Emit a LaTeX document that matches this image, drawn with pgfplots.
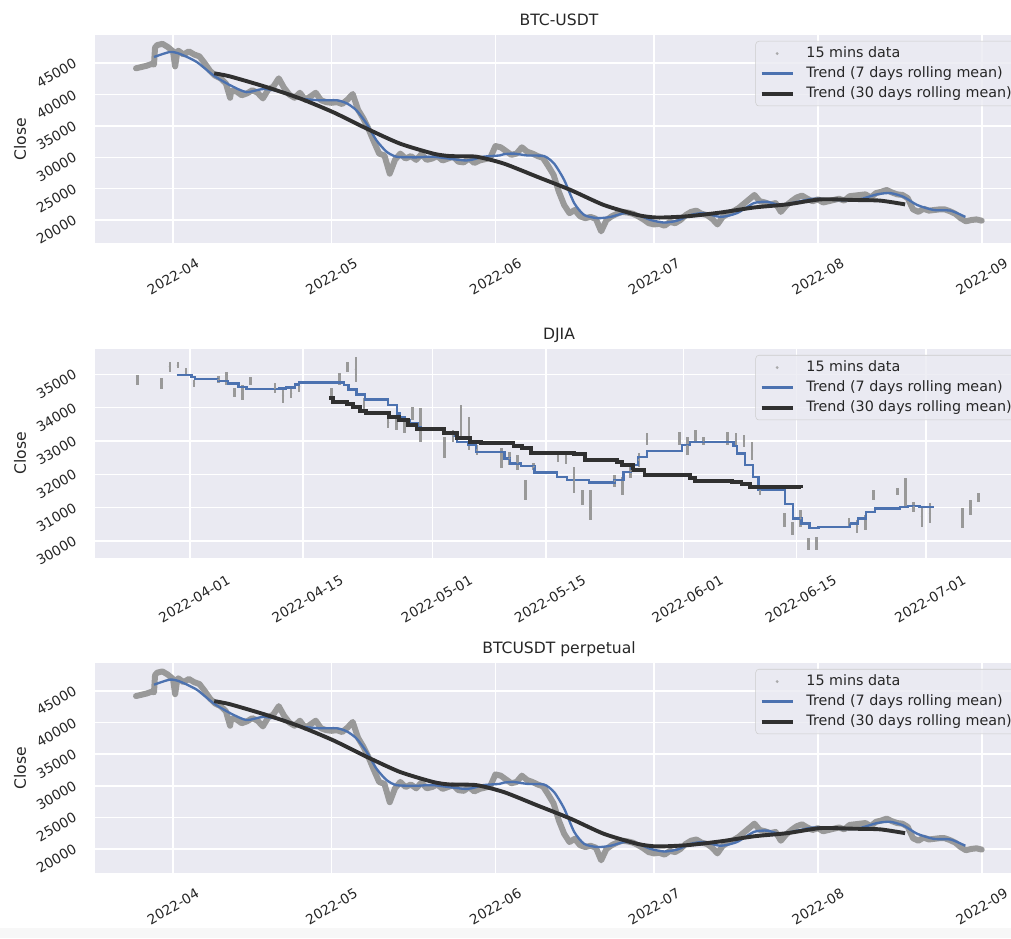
\documentclass[border=0pt]{standalone}
\usepackage{fontspec}
\setmainfont{DejaVu Sans}
\usepackage{pgfplots}
\usepackage{pgfplotstable}
\pgfplotsset{compat=1.18}

\definecolor{bg}{HTML}{EAEAF2}
\definecolor{sbblue}{HTML}{4C72B0}
\definecolor{txt}{HTML}{262626}
\definecolor{pts}{HTML}{999999}
\definecolor{trend}{HTML}{303030}

% day number counted from 2022-04-01
\pgfplotstableread{
d v
-7 44200
-6 44400
-5 44600
-4 44900
-3.6 44800
-3.4 47500
-3 47900
-2 48100
-1 47600
0 46900
0.4 44500
0.8 46800
1 47000
2 46400
3 46900
4 46400
5 46100
6 45000
7 43800
8 43000
9 42600
10 41800
10.8 39500
11 40600
12 40500
13 39900
14 40200
15 40700
16 40300
17 39400
18 40800
19 41300
20 42600
21 41100
22 40000
23 39500
24 40300
25 39200
26 39700
27 40300
28 39100
29 38800
30 38700
31 38800
32 38500
33 39200
34 40100
35 37600
36 36200
37 34500
38 32500
39 30600
40 30300
41 27400
42 29600
43 30600
44 29800
45 30200
46 29600
47 30500
48 29600
49 29800
50 30200
51 29500
52 29800
53 30100
54 29300
55 29200
56 29800
57 29100
58 29500
59 29700
60 29900
61 31800
62 31600
63 31000
64 30400
65 30600
66 31600
67 30900
68 30600
69 30200
70 29900
71 28600
72 27200
73 24500
74 22400
75 21100
76 21600
77 20600
78 20300
79 20500
80 20200
81 18200
82 20000
83 20600
84 21000
85 21300
86 21200
87 21000
88 20600
89 20100
90 19500
91 19300
92 19400
93 19100
94 19700
95 19500
96 20000
97 20800
98 21300
99 21500
100 21000
101 20800
102 20200
103 19300
104 20500
105 21000
106 21400
107 21900
108 22600
109 23300
110 24000
111 23000
112 22800
113 22500
114 22700
115 21300
116 22300
117 23000
118 23600
119 23900
120 23400
121 23000
122 23300
123 22800
124 23000
125 23200
126 23400
127 23100
128 23800
129 23900
130 24000
131 24100
132 23600
133 24300
134 24500
135 24800
136 24400
137 24100
138 24000
139 23500
140 21700
141 21300
142 21800
143 21500
144 21600
145 21700
146 21700
147 21400
148 21000
149 20300
150 19800
151 20000
152 20100
153 19900
}\btcpts

\pgfplotstableread{
d v
-3.6 46000
-0.6 46800
1.3 46500
4.5 45200
7.6 43100
10.8 41500
13.9 40400
17.1 40900
20.9 40400
24 39400
27.8 39100
31 39100
32.9 38600
34.7 37500
36.6 35400
38.5 32700
40.4 30900
42.3 30100
46.1 30000
49.2 30100
55.5 29500
58.7 30100
61.8 30300
62.6 30500
64.5 30600
67 30300
70.2 30200
72.1 29000
74 26400
75.9 22700
77.8 20800
80.3 20300
82.8 20500
85.4 21100
87.9 20800
90.4 20000
92.9 19600
95.4 19900
97.9 20800
100.4 21100
103.6 20500
106.7 21100
109.9 22700
112.4 22900
114.9 22400
118.1 22900
121.2 23400
125.6 23200
129.4 23200
133.2 24100
135.7 24300
138.2 23700
140.8 22400
143.9 21600
147.1 21500
149.9 20500
}\btcweek

\pgfplotstableread{
d v
7.8 43400
10.8 42900
17.7 41200
24 39400
30.3 37200
36.6 34600
42.9 32200
49.2 30600
52.4 30200
57.4 30100
62.6 29000
68.9 26900
75.2 24800
81.5 22400
87.9 20800
91.6 20400
97.3 20600
103.6 21200
109.9 22000
116.2 22500
122.5 23300
128.8 23200
133.8 23100
138.5 22500
}\btcmonth

% DJIA: one column per trading day, mid value and half range
\pgfplotstableread{
d v e
-6.5 34830 150
-3.5 34715 165
-2.5 35230 150
-1.5 35270 90
-0.5 35080 100
0.5 34720 110
3.5 34840 110
4.5 34880 200
5.5 34455 125
6.5 34455 225
7.5 34805 125
10.5 34580 150
11.5 34355 225
12.5 34430 150
13.5 34630 150
17.5 34455 125
18.5 34855 175
19.5 35230 150
20.5 35155 375
21.5 34105 175
24.5 33555 175
25.5 33505 175
26.5 33405 175
27.5 33830 200
28.5 33480 500
31.5 32805 325
32.5 33155 175
33.5 33605 475
34.5 33230 500
35.5 32730 150
38.5 32500 300
39.5 32480 200
40.5 32355 225
41.5 31530 300
42.5 32230 100
45.5 32530 150
46.5 32480 175
47.5 31830 400
48.5 31305 225
49.5 31080 450
52.5 31805 175
53.5 31655 275
54.5 32105 225
55.5 32430 200
56.5 33055 175
60.5 33080 200
61.5 32855 275
62.5 33130 200
63.5 33005 125
66.5 33080 200
67.5 33055 175
68.5 33005 175
69.5 32705 275
70.5 31505 125
73.5 30630 200
74.5 30380 200
75.5 30680 250
76.5 29905 175
77.5 29930 200
81.5 30555 125
82.5 30430 200
83.5 30555 225
84.5 31380 150
87.5 31480 100
88.5 31455 425
89.5 31030 150
90.5 30730 300
91.5 30830 300
95.5 30680 300
96.5 31005 225
97.5 31305 125
}\djiapts

\pgfplotstableread{
d v
-1.65 34980
0.2 34930
0.6 34860
3.5 34810
4.7 34730
6.0 34630
7.0 34560
11.0 34580
11.9 34610
13.0 34700
13.5 34760
19.0 34680
19.6 34550
20.6 34400
21.6 34250
24.5 34080
25.6 33830
26.0 33710
26.6 33630
27.2 33530
28.2 33410
28.6 33350
31.5 33280
32.5 33150
33.0 32980
34.4 32880
35.4 32680
38.9 32480
39.6 32330
40.9 32250
42.6 32060
45.4 31930
46.6 31830
49.3 31760
52.5 31830
53.6 32080
54.5 32180
54.8 32280
55.4 32530
56.5 32710
60.8 32880
61.8 32980
67.2 32850
67.6 32630
68.6 32280
69.6 31930
70.3 31530
73.6 31110
74.6 30680
75.6 30530
76.6 30400
77.7 30430
81.6 30530
82.6 30680
83.6 30880
84.7 30980
87.8 31030
88.8 31060
90.2 31030
91.8 30980
}\djiaweek

\pgfplotstableread{
d v
17.2 34280
17.7 34180
19.4 34110
20.2 34010
21.0 33910
21.8 33830
24.6 33710
25.8 33630
27.0 33480
28.0 33350
31.4 33230
33.0 33100
34.6 32980
36.0 32950
38.6 32930
40.0 32850
41.0 32780
42.2 32650
47.5 32600
48.8 32430
52.8 32380
53.4 32280
54.8 32130
56.2 31980
61.8 31900
62.5 31810
67.0 31760
68.2 31710
69.3 31630
71.0 31610
75.6 31600
}\djiamonth

\pgfplotsset{
  sb/.style={
    scale only axis, width=713.8bp, height=160bp, anchor=north west,
    axis background/.style={fill=bg},
    axis line style={draw=none},
    tick style={draw=none},
    grid=major,
    major grid style={draw=white, line width=1.2bp},
    scaled y ticks=false, scaled x ticks=false,
    ticklabel style={font=\fontsize{10.5bp}{12bp}\selectfont, text=txt},
    /pgf/number format/assume math mode=true,
    xticklabel style={yshift=-25.8bp, rotate=30, anchor=center},
    yticklabel style={xshift=-15bp, yshift=1bp, rotate=30, anchor=east, inner sep=0pt},
    every axis y label/.style={at={(axis description cs:-0.0808,0.5)}, rotate=90,
      anchor=center, font=\fontsize{12bp}{14bp}\selectfont, text=txt},
    ylabel={Close},
    every axis title/.style={at={(axis description cs:0.5,1)}, anchor=base,
      yshift=7.2bp, font=\fontsize{12bp}{14bp}\selectfont, text=txt},
    legend style={at={(axis description cs:1,1)}, anchor=north east,
      xshift=-5.4bp, yshift=-4.6bp, fill=bg, fill opacity=0.8, text opacity=1,
      draw=black!20, rounded corners=2.5bp,
      font=\fontsize{11bp}{13bp}\selectfont, text=txt,
      inner xsep=3bp, inner ysep=4bp,
      nodes={inner sep=0pt, text height=8.5bp, text depth=2.5bp, anchor=west},
      row sep=4.4bp,
      /tikz/every odd column/.append style={column sep=9bp}},
    legend cell align=left,
    legend image code/.code={\draw[##1] (0bp,0bp) -- (24bp,0bp);},
  },
  btcaxis/.style={
    xmin=-14.76, xmax=160.8,
    xtick={0,30,61,91,122,153},
    xticklabels={2022-04,2022-05,2022-06,2022-07,2022-08,2022-09},
    ytick={20000,25000,30000,35000,40000,45000},
    yticklabels={20000,25000,30000,35000,40000,45000},
  },
  dotlegend/.style={legend image code/.code={%
    \path[fill=pts, draw=none] (12bp,0bp) circle (1.2bp);}},
}

\begin{document}
\begin{tikzpicture}

% faint strip along the bottom edge of the figure
\fill[black!3] (0bp,-713.85bp) rectangle (777.69bp,-721.54bp);

\begin{axis}[sb, btcaxis, at={(73.08bp,-26.92bp)}, ymin=16340, ymax=49510,
  title={BTC-USDT}]
\addplot[pts, line width=4.6bp, line join=round, line cap=round, dotlegend]
  table[x=d, y=v] {\btcpts};
\addlegendentry{15 mins data}
\addplot[sbblue, line width=1.8bp, smooth, tension=0.4] table[x=d, y=v] {\btcweek};
\addlegendentry{Trend (7 days rolling mean)}
\addplot[trend, line width=3bp, smooth, tension=0.4] table[x=d, y=v] {\btcmonth};
\addlegendentry{Trend (30 days rolling mean)}
\end{axis}

\begin{axis}[sb, at={(73.08bp,-268.46bp)}, height=160.8bp,
  xmin=-11.75, xmax=103.0, ymin=29490, ymax=35760,
  xticklabel style={yshift=-6.5bp},
  xtick={0,14,30,44,61,75,91},
  xticklabels={2022-04-01,2022-04-15,2022-05-01,2022-05-15,2022-06-01,2022-06-15,2022-07-01},
  ytick={30000,31000,32000,33000,34000,35000},
  yticklabels={30000,31000,32000,33000,34000,35000},
  title={DJIA}]
\addplot[pts, only marks, mark=*, mark size=0.6bp, dotlegend,
  error bars/.cd, y dir=both, y explicit, error mark=none,
  error bar style={line width=2bp, pts}]
  table[x=d, y=v, y error=e] {\djiapts};
\addlegendentry{15 mins data}
\addplot[sbblue, line width=1.8bp, const plot] table[x=d, y=v] {\djiaweek};
\addlegendentry{Trend (7 days rolling mean)}
\addplot[trend, line width=3bp, const plot] table[x=d, y=v] {\djiamonth};
\addlegendentry{Trend (30 days rolling mean)}
\end{axis}

\begin{axis}[sb, btcaxis, at={(73.08bp,-510bp)}, height=161.5bp,
  ymin=16200, ymax=49430,
  title={BTCUSDT perpetual}]
\addplot[pts, line width=4.6bp, line join=round, line cap=round, dotlegend]
  table[x=d, y=v] {\btcpts};
\addlegendentry{15 mins data}
\addplot[sbblue, line width=1.8bp, smooth, tension=0.4] table[x=d, y=v] {\btcweek};
\addlegendentry{Trend (7 days rolling mean)}
\addplot[trend, line width=3bp, smooth, tension=0.4] table[x=d, y=v] {\btcmonth};
\addlegendentry{Trend (30 days rolling mean)}
\end{axis}

\pgfresetboundingbox
\path[use as bounding box] (0bp,0bp) rectangle (777.69bp,-721.54bp);
\end{tikzpicture}
\end{document}
